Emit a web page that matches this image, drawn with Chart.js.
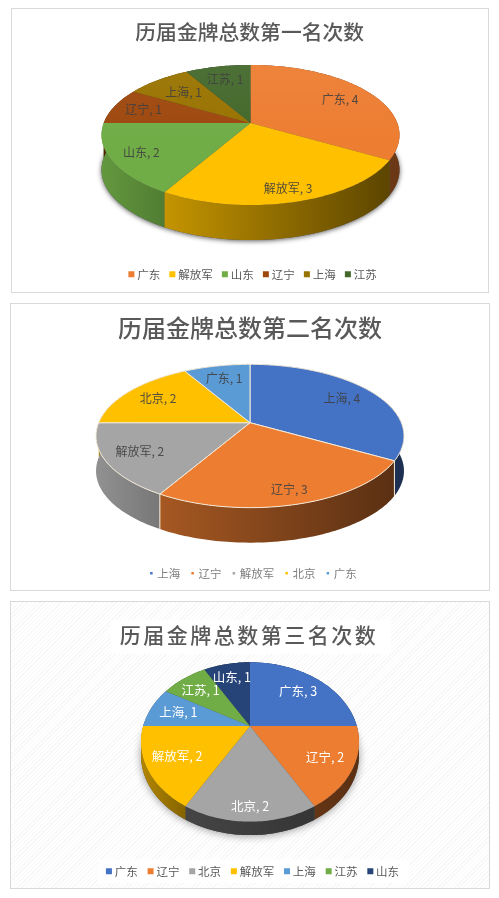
<!DOCTYPE html>
<html>
<head>
<meta charset="utf-8">
<script src="https://cdn.jsdelivr.net/npm/chart.js@4"></script>
<style>
html, body { margin: 0; padding: 0; background: #fff; }
.panel { position: absolute; box-sizing: border-box; border: 1px solid #d9d9d9; background: #fff; }
.panel canvas { position: absolute; left: 0; top: 0; }
#panel1 { left: 11px; top: 8px; width: 478px; height: 285px; }
#panel2 { left: 10px; top: 303px; width: 480px; height: 288px; }
#panel3 { left: 10px; top: 601px; width: 480px; height: 288px;
  background: repeating-linear-gradient(-45deg, #f7f7f7 0, #f7f7f7 1px, #fff 1px, #fff 3px); }
</style>
</head>
<body>
<div class="panel" id="panel1"><canvas id="chart1" width="476" height="283"></canvas></div>
<div class="panel" id="panel2"><canvas id="chart2" width="478" height="286"></canvas></div>
<div class="panel" id="panel3"><canvas id="chart3" width="478" height="286"></canvas></div>
<script>
const title1 = '历届金牌总数第一名次数';
const names1 = ['广东', '解放军', '山东', '辽宁', '上海', '江苏'];
const values1 = [4, 3, 2, 1, 1, 1];

const title2 = '历届金牌总数第二名次数';
const names2 = ['上海', '辽宁', '解放军', '北京', '广东'];
const values2 = [4, 3, 2, 2, 1];

const title3 = '历届金牌总数第三名次数';
const names3 = ['广东', '辽宁', '北京', '解放军', '上海', '江苏', '山东'];
const values3 = [3, 2, 2, 2, 1, 1, 1];

const fontName = '"Noto Sans CJK SC", "Noto Sans", sans-serif';

function shade(hex, f) {
    const n = parseInt(hex.slice(1), 16);
    const r = Math.round((n >> 16 & 255) * f);
    const g = Math.round((n >> 8 & 255) * f);
    const b = Math.round((n & 255) * f);
    return `rgb(${r},${g},${b})`;
}

// unit circle seen in perspective, so the pie centre sits above the middle of the ellipse
function project(s, angle, r, drop) {
    const u = r * Math.sin(angle);
    const v = -r * Math.cos(angle);
    const d = 1 - s.k * v;
    return { x: s.cx + s.a * u / d, y: s.cy + s.b * v / d + (drop || 0) };
}

function rimPoints(s, start, end, drop) {
    const pts = [];
    const steps = Math.max(2, Math.ceil((end - start) / 0.02));
    for (let i = 0; i <= steps; i++) {
        pts.push(project(s, start + (end - start) * i / steps, 1, drop));
    }
    return pts;
}

function tracePoints(ctx, pts) {
    pts.forEach((p, i) => i ? ctx.lineTo(p.x, p.y) : ctx.moveTo(p.x, p.y));
}

const pie3d = {
    id: 'pie3d',
    beforeDraw(chart, args, s) {
        if (!s.whiteBacks) return;
        const ctx = chart.ctx;
        const boxes = chart.legend.legendHitBoxes;
        const first = boxes[0];
        const last = boxes[boxes.length - 1];
        ctx.save();
        ctx.fillStyle = '#fff';
        ctx.fillRect(first.left - 10, first.top - 6, last.left + last.width - first.left + 20, first.height + 12);
        ctx.fillRect(s.titleBack[0], s.titleBack[1], s.titleBack[2], s.titleBack[3]);
        ctx.restore();
    },
    beforeDatasetsDraw(chart, args, s) {
        const ctx = chart.ctx;
        const arcs = chart.getDatasetMeta(0).data;
        const colors = chart.data.datasets[0].backgroundColor;
        const slices = arcs.map(arc => ({
            start: arc.startAngle + Math.PI / 2,
            end: arc.endAngle + Math.PI / 2
        }));
        ctx.save();

        // soft shadow under the whole disc
        if (s.shadow) {
            ctx.save();
            ctx.shadowColor = s.shadow;
            ctx.shadowBlur = s.shadowBlur;
            ctx.shadowOffsetY = 1;
            ctx.fillStyle = '#555';
            ctx.beginPath();
            tracePoints(ctx, rimPoints(s, 0, Math.PI * 2, s.depth));
            ctx.closePath();
            ctx.fill();
            ctx.restore();
        }

        // side wall
        slices.forEach((sl, i) => {
            const top = rimPoints(s, sl.start, sl.end, 0);
            const bottom = rimPoints(s, sl.start, sl.end, s.depth).reverse();
            const xs = top.map(p => p.x);
            const g = ctx.createLinearGradient(Math.min(...xs), 0, Math.max(...xs), 0);
            g.addColorStop(0, shade(colors[i], s.sideShade[i][0]));
            g.addColorStop(1, shade(colors[i], s.sideShade[i][1]));
            ctx.fillStyle = g;
            ctx.beginPath();
            tracePoints(ctx, top.concat(bottom));
            ctx.closePath();
            ctx.fill();
        });

        // white seams running down the wall
        if (s.seam) {
            ctx.strokeStyle = s.seam;
            ctx.lineWidth = 1;
            slices.forEach(sl => {
                const p = project(s, sl.start, 1, 0);
                if (Math.cos(sl.start) > 0) return;
                ctx.beginPath();
                ctx.moveTo(p.x, p.y);
                ctx.lineTo(p.x, p.y + s.depth);
                ctx.stroke();
            });
        }

        // top face
        const glow = ctx.createLinearGradient(0, s.cy - s.b, 0, s.cy + s.b * 0.3);
        glow.addColorStop(0, `rgba(255,255,255,${s.glow})`);
        glow.addColorStop(1, 'rgba(255,255,255,0)');
        slices.forEach((sl, i) => {
            ctx.beginPath();
            ctx.moveTo(s.cx, s.cy);
            rimPoints(s, sl.start, sl.end, 0).forEach(p => ctx.lineTo(p.x, p.y));
            ctx.closePath();
            ctx.fillStyle = colors[i];
            ctx.fill();
            ctx.fillStyle = glow;
            ctx.fill();
            if (s.seam) {
                ctx.strokeStyle = s.seam;
                ctx.lineWidth = 1;
                ctx.stroke();
            }
        });

        // data labels
        ctx.font = `${s.labelSize}px ${fontName}`;
        ctx.textAlign = 'center';
        ctx.textBaseline = 'middle';
        ctx.fillStyle = s.labelColor;
        slices.forEach((sl, i) => {
            const p = project(s, (sl.start + sl.end) / 2, s.labelRadius[i]);
            ctx.fillText(`${chart.data.labels[i]}, ${chart.data.datasets[0].data[i]}`, p.x, p.y);
        });
        ctx.restore();
        return false;
    }
};

function makePie(id, title, names, values, colors, opt) {
    const chart = new Chart(document.getElementById(id), {
        type: 'pie',
        data: {
            labels: names,
            datasets: [{ data: values, backgroundColor: colors, borderWidth: 0 }]
        },
        options: {
            responsive: false,
            animation: false,
            events: [],
            layout: { padding: opt.padding },
            plugins: {
                title: {
                    display: true,
                    text: title,
                    color: '#595959',
                    font: { family: fontName, size: opt.titleSize, weight: '500' },
                    padding: { top: 0, bottom: 0 }
                },
                legend: {
                    position: 'bottom',
                    labels: {
                        color: opt.legendColor,
                        font: { family: fontName, size: 11.5 },
                        usePointStyle: true,
                        pointStyle: 'rect',
                        boxWidth: 0.1, // keeps the text close to the small marker
                        boxHeight: opt.marker,
                        padding: opt.legendPad
                    }
                },
                tooltip: { enabled: false },
                pie3d: opt.shape
            }
        },
        plugins: [pie3d]
    });
    // the title block has no letter spacing or x offset of its own
    const drawTitle = chart.titleBlock.draw;
    chart.titleBlock.draw = function () {
        const ctx = this.ctx;
        ctx.save();
        ctx.letterSpacing = (opt.titleSpacing || 0) + 'px';
        ctx.translate(opt.titleShift, 0);
        drawTitle.call(this);
        ctx.restore();
    };
    chart.draw();
    return chart;
}

const palette1 = ['#ED7D31', '#FFC000', '#70AD47', '#9E480E', '#997300', '#43682B'];
const palette2 = ['#4472C4', '#ED7D31', '#A5A5A5', '#FFC000', '#5B9BD5'];
const palette3 = ['#4472C4', '#ED7D31', '#A5A5A5', '#FFC000', '#5B9BD5', '#70AD47', '#264478'];

makePie('chart1', title1, names1, values1, palette1, {
    titleSize: 20.8,
    titleShift: -4.3,
    legendColor: '#595959',
    legendPad: 12.15,
    marker: 6,
    padding: { top: 11, bottom: 2, left: 8, right: 0 },
    shape: {
        cx: 238.5, cy: 114, a: 146.8, b: 68, k: 0.171, depth: 35,
        glow: 0.06, shadow: 'rgba(0,0,0,0.65)', shadowBlur: 5,
        labelSize: 12, labelColor: 'rgba(64,64,64,0.9)',
        labelRadius: [0.75, 0.85, 0.8, 0.78, 0.7, 0.75],
        sideShade: [[0.5, 0.45], [0.77, 0.36], [0.88, 0.72], [0.5, 0.5], [0.5, 0.5], [0.5, 0.5]]
    }
});

makePie('chart2', title2, names2, values2, palette2, {
    titleSize: 24,
    titleShift: -4,
    legendColor: '#7f7f7f',
    legendPad: 12.4,
    marker: 2.5,
    padding: { top: 9, bottom: 1, left: 8, right: 0 },
    shape: {
        cx: 239, cy: 118.7, a: 151.3, b: 69.2, k: 0.1855, depth: 35,
        glow: 0, seam: '#f4ead8',
        labelSize: 12, labelColor: 'rgba(64,64,64,0.9)',
        labelRadius: [0.75, 0.85, 0.78, 0.75, 0.75],
        sideShade: [[0.45, 0.42], [0.7, 0.38], [0.88, 0.72], [0.6, 0.6], [0.5, 0.5]]
    }
});

makePie('chart3', title3, names3, values3, palette3, {
    titleSize: 21,
    titleSpacing: 2.5,
    titleShift: -5,
    legendColor: '#595959',
    legendPad: 12.8,
    marker: 6,
    padding: { top: 20.5, bottom: 1, left: 8, right: 0 },
    shape: {
        cx: 239, cy: 124, a: 106.8, b: 76.5, k: 0.2, depth: 13.5,
        glow: 0, shadow: 'rgba(0,0,0,0.4)', shadowBlur: 8,
        whiteBacks: true, titleBack: [100, 18, 280, 34],
        labelSize: 12.5, labelColor: '#ffffff',
        labelRadius: [0.7, 0.75, 0.87, 0.73, 0.72, 0.72, 0.75],
        sideShade: [[0.4, 0.4], [0.42, 0.38], [0.42, 0.32], [0.7, 0.52], [0.5, 0.5], [0.5, 0.5], [0.5, 0.5]]
    }
});
</script>
</body>
</html>
